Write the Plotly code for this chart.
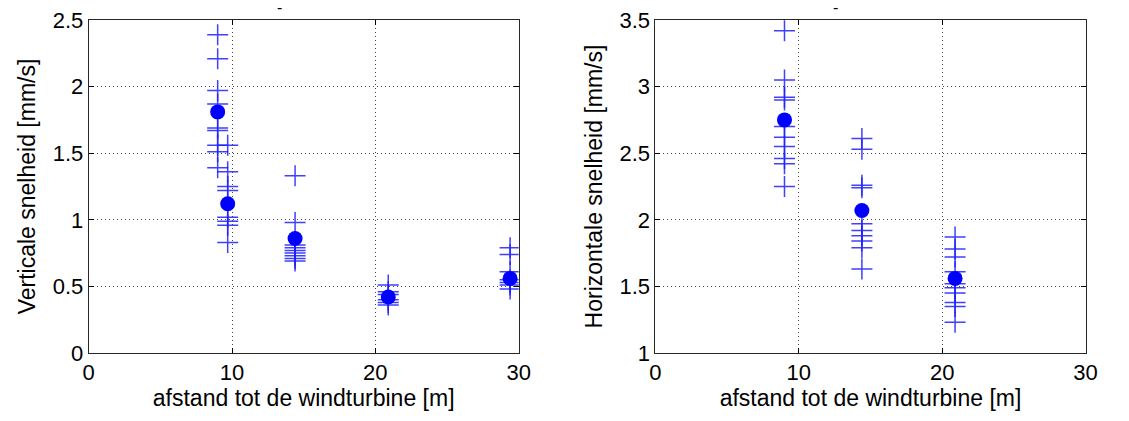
import plotly.graph_objects as go

# ---- data ----
# left panel: vertical velocity
v_x = [9.0, 9.7, 14.4, 20.9, 29.4]
v_points = [
    [2.39, 2.21, 1.97, 1.87, 1.69, 1.67, 1.56, 1.51, 1.39],
    [1.56, 1.36, 1.25, 1.22, 1.02, 0.99, 0.96, 0.83],
    [1.33, 0.98, 0.81, 0.79, 0.77, 0.75, 0.73, 0.71, 0.69],
    [0.51, 0.46, 0.44, 0.40, 0.38, 0.36],
    [0.79, 0.74, 0.61, 0.55, 0.53, 0.51, 0.48],
]
v_mean = [1.81, 1.12, 0.86, 0.42, 0.56]

# right panel: horizontal velocity
h_x = [9.0, 14.4, 20.9]
h_points = [
    [3.42, 3.05, 2.92, 2.90, 2.70, 2.62, 2.55, 2.46, 2.42, 2.25],
    [2.61, 2.53, 2.26, 2.24, 1.97, 1.92, 1.88, 1.84, 1.79, 1.63],
    [1.87, 1.78, 1.72, 1.61, 1.52, 1.49, 1.45, 1.38, 1.35, 1.23],
]
h_mean = [2.75, 2.07, 1.56]

x_ticks = [0, 10, 20, 30]
v_ticks = [0, 0.5, 1, 1.5, 2, 2.5]
h_ticks = [1, 1.5, 2, 2.5, 3, 3.5]

W, H = 1129, 421
BLUE = "rgb(0,0,255)"
FONT = "Liberation Sans, Arial, sans-serif"
FS = 22
TFS = 23

fig = go.Figure()


def add_panel(xs, pts, means, xa, ya):
    px, py = [], []
    for x, vals in zip(xs, pts):
        for v in vals:
            px.append(x)
            py.append(v)
    fig.add_trace(go.Scatter(
        x=px, y=py, mode="markers", xaxis=xa, yaxis=ya, showlegend=False,
        marker=dict(symbol="cross-thin", size=15, line=dict(color="rgba(30,30,255,0.85)", width=1.5)),
    ))
    fig.add_trace(go.Scatter(
        x=xs, y=means, mode="markers", xaxis=xa, yaxis=ya, showlegend=False,
        marker=dict(symbol="circle", size=15, color=BLUE, line=dict(width=0)),
    ))


add_panel(v_x, v_points, v_mean, "x", "y")
add_panel(h_x, h_points, h_mean, "x2", "y2")

axis_common = dict(
    showline=True, linecolor="rgb(40,40,40)", linewidth=1, mirror="ticks",
    ticks="inside", ticklen=5, tickcolor="black",
    showgrid=True, gridcolor="rgb(70,70,70)", griddash="1px,3px", gridwidth=1,
    zeroline=False,
    tickfont=dict(family=FONT, size=FS, color="black"),
)

fig.update_layout(
    width=W, height=H,
    margin=dict(l=0, r=0, t=20, b=68),
    paper_bgcolor="white", plot_bgcolor="white",
    font=dict(family=FONT, size=FS, color="black"),
    xaxis=dict(domain=[84 / W, 521 / W], range=[0, 30], tickvals=x_ticks,
               title=dict(text="afstand tot de windturbine [m]", standoff=2,
                          font=dict(family=FONT, size=TFS)),
               anchor="y", **axis_common),
    yaxis=dict(domain=[0, 1], range=[0, 2.5], tickvals=v_ticks,
               ticktext=[f"{t:g}" for t in v_ticks],
               title=dict(text="Verticale snelheid [mm/s]", standoff=10,
                          font=dict(family=FONT, size=TFS)),
               anchor="x", **axis_common),
    xaxis2=dict(domain=[660 / W, 1097 / W], range=[0, 30], tickvals=x_ticks,
                title=dict(text="afstand tot de windturbine [m]", standoff=2,
                           font=dict(family=FONT, size=TFS)),
                anchor="y2", **axis_common),
    yaxis2=dict(domain=[0, 1], range=[1, 3.5], tickvals=h_ticks,
                ticktext=[f"{t:g}" for t in h_ticks],
                title=dict(text="Horizontale snelheid [mm/s]", standoff=10,
                           font=dict(family=FONT, size=TFS)),
                anchor="x2", **axis_common),
    annotations=[
        dict(text="-", x=273 / W, y=1, xref="paper", yref="paper",
             yanchor="bottom", yshift=2, showarrow=False, font=dict(family=FONT, size=16)),
        dict(text="-", x=848 / W, y=1, xref="paper", yref="paper",
             yanchor="bottom", yshift=2, showarrow=False, font=dict(family=FONT, size=16)),
    ],
)

fig.write_html("out.html")
